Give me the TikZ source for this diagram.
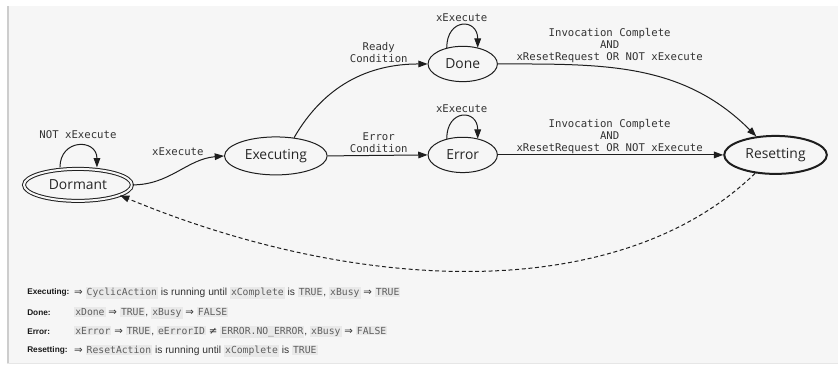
\documentclass[tikz,border=0pt]{standalone}
\usepackage{fontspec}
\setmainfont{Liberation Sans}
\newfontfamily\statefont{Open Sans}
\newfontfamily\monofont{DejaVu Sans Mono}
\newfontfamily\symfont{DejaVu Sans}
\usetikzlibrary{arrows.meta,calc,shapes.geometric,positioning}

\definecolor{panelbg}{HTML}{F6F6F6}
\definecolor{panelrule}{HTML}{CDCDCD}
\definecolor{inkline}{HTML}{1E1E1E}
\definecolor{codebg}{HTML}{E9E9E9}
\definecolor{codefg}{HTML}{5E5E5E}

\newcommand{\cd}[1]{{\setlength{\fboxsep}{0.8pt}\colorbox{codebg}{\monofont\fontsize{7.3}{8}\selectfont\color{codefg}#1}}}
\newcommand{\imp}{{\symfont ⇒}}
\newcommand{\neqs}{{\symfont ≠}}

\begin{document}
\begin{tikzpicture}[x=0.75pt,y=-0.75pt,>={Triangle[length=7pt,width=5pt]},
	st/.style={ellipse,draw=inkline,line width=0.75pt,inner sep=0pt,text=black!85,font=\statefont\fontsize{10.4}{12}\selectfont},
	lbl/.style={font=\monofont\fontsize{8}{9}\selectfont,text=black!80,align=center,inner sep=0pt},
	key/.style={anchor=west,inner sep=0pt,text=black!90,font=\bfseries\fontsize{6.2}{7}\selectfont},
	desc/.style={anchor=west,inner sep=0pt,text=black!80,font=\fontsize{7.7}{9}\selectfont}]
	% panel
	\fill[white] (0,0) rectangle (838,365);
	\fill[panelbg] (7,6) rectangle (838,363);
	\draw[panelrule,line width=1.2pt] (8,6) -- (8,363);
	\draw[panelrule!50,line width=0.75pt] (7,363.5) -- (838,363.5);
	\useasboundingbox (0,0) rectangle (838,365);

	% states
	\node[st,double=panelbg,double distance=1.5pt,minimum width=81pt,minimum height=24pt] (dormant) at (78,185) {Dormant};
	\node[st,minimum width=77pt,minimum height=28.5pt] (executing) at (276,156) {Executing};
	\node[st,minimum width=52pt,minimum height=26.5pt] (done) at (463,64) {Done};
	\node[st,minimum width=52pt,minimum height=26.5pt] (error) at (463,155) {Error};
	\node[st,line width=1.5pt,minimum width=77pt,minimum height=28.5pt] (resetting) at (776,155) {Resetting};

	% labels
	\node[lbl] (l_notexec) at (78,135) {NOT xExecute};
	\node[lbl] (l_exec) at (178,152) {xExecute};
	\node[lbl] (l_ready) at (379,53) {Ready\\Condition};
	\node[lbl] (l_err) at (379,143) {Error\\Condition};
	\node[lbl] (l_doneloop) at (462,18) {xExecute};
	\node[lbl] (l_errloop) at (462,109) {xExecute};
	\node[lbl] (l_donereset) at (610,46) {Invocation Complete\\AND\\xResetRequest OR NOT xExecute};
	\node[lbl] (l_errreset) at (610,137) {Invocation Complete\\AND\\xResetRequest OR NOT xExecute};

	% transitions
	\path[->,inkline,line width=0.75pt]
		(dormant.east) edge[out=0,in=185] (executing.west)
		(executing.45) edge[out=60,in=180] (done.west)
		(executing.east) edge (error.west)
		(done.east) edge[out=0,in=135] (resetting.136)
		(error.east) edge (resetting.west);
	\draw[->,inkline,line width=0.75pt] ($(dormant.north)+(-18,-1)$) .. controls +(0,-29) and +(0,-29) .. ($(dormant.north)+(19,-1)$);
	\draw[->,inkline,line width=0.75pt] ($(done.north)+(-16,2)$) .. controls +(0,-30) and +(0,-30) .. ($(done.north)+(15,2)$);
	\draw[->,inkline,line width=0.75pt] ($(error.north)+(-16,2)$) .. controls +(0,-30) and +(0,-30) .. ($(error.north)+(15,2)$);
	\draw[->,inkline,line width=0.75pt,dash pattern=on 3pt off 2pt] (resetting.222) .. controls (620,305) and (360,295) .. (dormant.-14);

	% legend
	\node[key] (k_exec) at (27,293) {Executing:};
	\node[key] (k_done) at (27,313) {Done:};
	\node[key] (k_err) at (27,332) {Error:};
	\node[key] (k_reset) at (27,351) {Resetting:};
	\node[desc] (d_exec) at (74,293) {\imp\ \cd{CyclicAction} is running until \cd{xComplete} is \cd{TRUE}, \cd{xBusy} \imp\ \cd{TRUE}};
	\node[desc] (d_done) at (74,313) {\cd{xDone} \imp\ \cd{TRUE}, \cd{xBusy} \imp\ \cd{FALSE}};
	\node[desc] (d_err) at (74,332) {\cd{xError} \imp\ \cd{TRUE}, \cd{eErrorID} \neqs\ \cd{ERROR.NO\_ERROR}, \cd{xBusy} \imp\ \cd{FALSE}};
	\node[desc] (d_reset) at (74,351) {\imp\ \cd{ResetAction} is running until \cd{xComplete} is \cd{TRUE}};
\end{tikzpicture}
\end{document}
